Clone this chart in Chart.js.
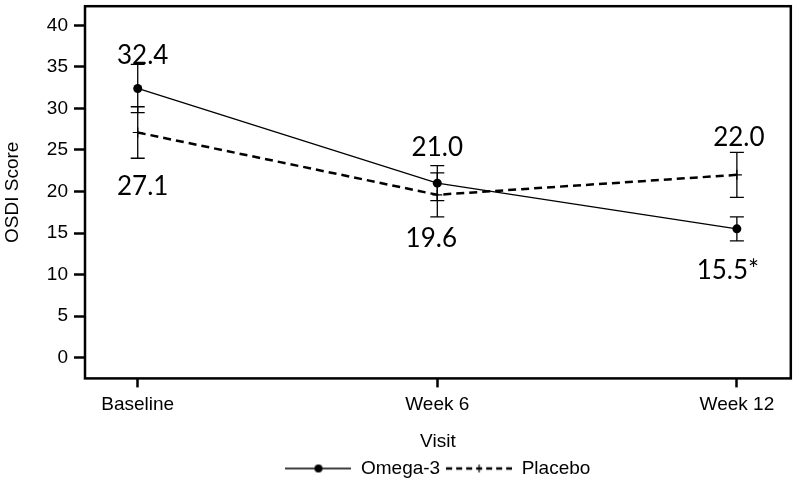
<!DOCTYPE html>
<html>
<head>
<meta charset="utf-8">
<script src="https://cdn.jsdelivr.net/npm/chart.js@4"></script>
<style>
  html, body { margin: 0; padding: 0; background: #fff; }
  #wrap { width: 797px; height: 488px; }
</style>
</head>
<body>
<div id="wrap"><canvas id="chart" width="797" height="488"></canvas></div>
<script>
// ======= Data =======
const visits       = ["Baseline", "Week 6", "Week 12"];
const omegaMean    = [32.4, 21.0, 15.5];
const omegaErr     = [2.9, 2.1, 1.45];
const placeboMean  = [27.1, 19.6, 22.0];
const placeboErr   = [3.1, 2.65, 2.7];
const omegaLabels  = ["32.4", "21.0", "15.5*"];
const placeboLabels = ["27.1", "19.6", "22.0"];
const yTicks       = [0, 5, 10, 15, 20, 25, 30, 35, 40];

// ======= Helpers =======
const axisFont = { family: "'Liberation Sans', Arial, sans-serif", size: 19 };
const toPoints = (arr) => arr.map((v, i) => ({ x: i, y: v }));

// label offsets (px) relative to the point, per series
const omegaLabelOff   = [[5, -33], [0, -36], [-9, 42]];
const placeboLabelOff = [[5, 54], [-6, 44], [2, -37]];

// legend samples drawn into small canvases
function legendSample(dashed){
  const c = document.createElement("canvas");
  c.width = 66; c.height = 12;
  const g = c.getContext("2d");
  g.strokeStyle = "#000";
  g.beginPath();
  if(dashed){
    g.lineWidth = 2.5;
    g.setLineDash([6, 4]);
  } else {
    g.lineWidth = 1.3;
  }
  g.moveTo(0, 6); g.lineTo(66, 6); g.stroke();
  g.setLineDash([]);
  if(dashed){
    g.lineWidth = 1.2;
    g.beginPath(); g.moveTo(33, 2); g.lineTo(33, 10); g.stroke();
  } else {
    g.fillStyle = "#000";
    g.beginPath(); g.arc(33, 6, 4, 0, Math.PI * 2); g.fill();
  }
  return c;
}

// ======= Plugins =======
const frame = {
  id: "frame",
  afterDraw(chart){
    const { ctx, chartArea: a } = chart;
    ctx.save();
    ctx.strokeStyle = "#000";
    ctx.lineWidth = 2.5;
    ctx.strokeRect(a.left, a.top, a.right - a.left, a.bottom - a.top);
    ctx.restore();
  }
};

const errorBars = {
  id: "errorBars",
  afterDatasetsDraw(chart){
    const { ctx, scales: { x, y } } = chart;
    const sets = [[omegaMean, omegaErr], [placeboMean, placeboErr]];
    ctx.save();
    ctx.strokeStyle = "#000";
    ctx.lineWidth = 1.3;
    sets.forEach(([m, e]) => {
      m.forEach((v, i) => {
        const px = x.getPixelForValue(i);
        const top = y.getPixelForValue(v + e[i]);
        const bot = y.getPixelForValue(v - e[i]);
        ctx.beginPath();
        ctx.moveTo(px, top); ctx.lineTo(px, bot);
        ctx.moveTo(px - 7, top); ctx.lineTo(px + 7, top);
        ctx.moveTo(px - 7, bot); ctx.lineTo(px + 7, bot);
        ctx.stroke();
      });
    });
    ctx.restore();
  }
};

const valueLabels = {
  id: "valueLabels",
  afterDatasetsDraw(chart){
    const { ctx, scales: { x, y } } = chart;
    ctx.save();
    ctx.fillStyle = "#000";
    ctx.font = "26px Lato, 'Open Sans', sans-serif";
    ctx.textAlign = "center";
    ctx.textBaseline = "middle";
    const draw = (vals, labels, offs) => vals.forEach((v, i) => {
      ctx.fillText(labels[i], x.getPixelForValue(i) + offs[i][0], y.getPixelForValue(v) + offs[i][1]);
    });
    draw(omegaMean, omegaLabels, omegaLabelOff);
    draw(placeboMean, placeboLabels, placeboLabelOff);
    ctx.restore();
  }
};

// ======= Chart =======
new Chart(document.getElementById("chart"), {
  type: "line",
  data: {
    datasets: [
      {
        label: "Omega-3",
        data: toPoints(omegaMean),
        borderColor: "#000",
        backgroundColor: "#000",
        borderWidth: 1.3,
        pointStyle: "circle",
        pointRadius: 4.5,
        pointBackgroundColor: "#000",
        pointBorderWidth: 0,
        tension: 0
      },
      {
        label: "Placebo",
        data: toPoints(placeboMean),
        borderColor: "#000",
        backgroundColor: "#000",
        borderWidth: 2.5,
        borderDash: [8, 5],
        pointStyle: "cross",
        pointRadius: 5,
        pointBorderWidth: 1.2,
        tension: 0
      }
    ]
  },
  options: {
    responsive: false,
    animation: false,
    layout: { padding: { top: 1, right: 4, bottom: 0, left: 0 } },
    scales: {
      x: {
        type: "linear",
        min: -0.176,
        max: 2.18,
        afterBuildTicks: (s) => { s.ticks = visits.map((_, i) => ({ value: i })); },
        ticks: {
          callback: (v) => visits[v],
          color: "#000",
          font: axisFont,
          padding: 6,
          maxRotation: 0
        },
        grid: { drawOnChartArea: false, tickLength: 9, tickWidth: 2.5, tickColor: "#000" },
        border: { display: false },
        title: { display: true, text: "Visit", color: "#000", font: axisFont, padding: { top: 8, bottom: 0 } }
      },
      y: {
        min: -2.5,
        max: 42.3,
        afterBuildTicks: (s) => { s.ticks = yTicks.map(v => ({ value: v })); },
        afterFit: (s) => { s.width = 85; s.paddingTop = 0; s.paddingBottom = 0; },
        ticks: { color: "#000", font: axisFont, padding: 6 },
        grid: { drawOnChartArea: false, tickLength: 11, tickWidth: 2.5, tickColor: "#000" },
        border: { display: false },
        title: { display: true, text: "OSDI Score", color: "#000", font: axisFont, padding: { top: 1, bottom: 0 } }
      }
    },
    plugins: {
      tooltip: { enabled: false },
      legend: {
        position: "bottom",
        fullSize: false,
        labels: {
          color: "#000",
          font: axisFont,
          usePointStyle: true,
          pointStyleWidth: 66,
          padding: 6,
          generateLabels: (chart) => chart.data.datasets.map((d, i) => ({
            text: d.label,
            pointStyle: legendSample(i === 1),
            datasetIndex: i,
            fontColor: "#000",
            lineWidth: 0
          }))
        }
      }
    }
  },
  plugins: [errorBars, valueLabels, frame]
});
</script>
</body>
</html>
